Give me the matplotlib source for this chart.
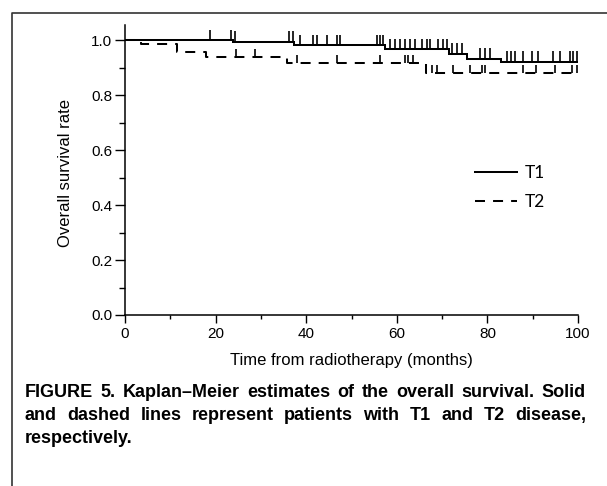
import matplotlib
matplotlib.use("Agg")
import matplotlib.pyplot as plt
from matplotlib.lines import Line2D
import numpy as np

# ---- data ----
t1_event_times = [0, 23.8, 37.2, 57.4, 71.6, 75.4, 83.1, 99.7]
t1_survival    = [1.0, 0.994, 0.982, 0.966, 0.951, 0.933, 0.921, 0.921]
t1_censor = [18.8, 23.5, 24.2, 36.3, 37.0, 38.6, 41.6, 42.4, 44.5, 46.7, 47.5,
             55.6, 56.3, 57.0, 58.5, 59.6, 60.7, 61.8, 62.9, 64.0, 65.5, 66.6,
             67.4, 69.2, 70.3, 71.0, 72.1, 73.2, 74.3, 78.4, 79.5, 80.6,
             84.3, 85.3, 86.1, 87.9, 89.8, 91.2, 94.5, 96.0, 98.2, 98.9, 99.7]

t2_event_times = [0, 3.5, 11.4, 17.9, 35.7, 66.4, 99.7]
t2_survival    = [1.0, 0.985, 0.958, 0.937, 0.915, 0.881, 0.881]
t2_censor = [24.5, 28.7, 37.9, 46.7, 56.3, 61.8, 62.5, 63.6, 67.7, 68.8,
             72.5, 76.2, 78.7, 79.5, 87.9, 90.8, 94.9, 98.6, 99.7]

x_ticks = [0, 20, 40, 60, 80, 100]
y_ticks = [0.0, 0.2, 0.4, 0.6, 0.8, 1.0]
series_labels = ["T1", "T2"]
xlabel = "Time from radiotherapy (months)"
ylabel = "Overall survival rate"
caption_lines = [
    "FIGURE 5. Kaplan\u2013Meier estimates of the overall survival. Solid",
    "and dashed lines represent patients with T1 and T2 disease,",
    "respectively.",
]

W, H = 607, 486
plt.rcParams['font.family'] = ['Liberation Sans', 'DejaVu Sans']
plt.rcParams['lines.scale_dashes'] = False
fig = plt.figure(figsize=(W / 100, H / 100), dpi=100)

# axes placement (pixels)
x0px, x1px = 125, 578
y0px, ytop = 315, 25
ymax = 1.055
ax = fig.add_axes([x0px / W, (H - y0px) / H, (x1px - x0px) / W, (y0px - ytop) / H])
ax.set_xlim(0, 100)
ax.set_ylim(0, ymax)
for s in ['top', 'right']:
    ax.spines[s].set_visible(False)
for s in ['left', 'bottom']:
    ax.spines[s].set_linewidth(1.1)

ax.set_xticks(x_ticks)
ax.set_xticklabels([str(v) for v in x_ticks])
ax.set_xticks([10, 30, 50, 70, 90], minor=True)
ax.set_yticks(y_ticks)
ax.set_yticklabels([f"{v:.1f}" for v in y_ticks])
ax.set_yticks([0.1, 0.3, 0.5, 0.7, 0.9], minor=True)
ax.tick_params(axis='x', which='major', direction='out', length=5.8, width=1.0, pad=3, labelsize=11)
ax.tick_params(axis='x', which='minor', direction='out', length=2.9, width=1.0)
ax.tick_params(axis='y', which='major', direction='out', length=7.2, width=1.0, pad=2, labelsize=11)
ax.tick_params(axis='y', which='minor', direction='out', length=4.3, width=1.0)

def step_value(times, surv, t):
    idx = np.searchsorted(times, t, side='right') - 1
    return np.asarray(surv)[idx]

# T1 solid
l1, = ax.step(t1_event_times, t1_survival, where='post', color='black', lw=1.45,
              solid_joinstyle='miter', label=series_labels[0])
c1 = step_value(t1_event_times, t1_survival, t1_censor)
ax.vlines(t1_censor, c1, c1 + 0.038, color='black', lw=1.2)

# T2 dashed
l2, = ax.step(t2_event_times, t2_survival, where='post', color='black', lw=1.45,
              linestyle=(0, (7.2, 5.8)), label=series_labels[1])
c2 = step_value(t2_event_times, t2_survival, t2_censor)
ax.vlines(t2_censor, c2, c2 + 0.03, color='black', lw=1.2)

leg = ax.legend(handles=[l1, l2], loc='upper left',
                bbox_to_anchor=((475 - x0px) / (x1px - x0px), (y0px - 165) / (y0px - ytop)),
                frameon=False, handlelength=2.4, handletextpad=0.45,
                labelspacing=0.75, borderpad=0, borderaxespad=0,
                prop={'family': ['Lato', 'DejaVu Sans'], 'size': 12.5})

ax.set_xlabel(xlabel, fontsize=12)
ax.xaxis.set_label_coords(0.5, (y0px - 361) / (y0px - ytop))
ax.xaxis.label.set_va('center')
ax.set_ylabel(ylabel, fontsize=12)
ax.yaxis.set_label_coords((66 - x0px) / (x1px - x0px), 0.49)
ax.yaxis.label.set_va('center')

# figure frame
fig.add_artist(Line2D([12 / W, 12 / W, 1.0], [0.0, 1 - 13 / H, 1 - 13 / H],
                      transform=fig.transFigure, color='#333333', lw=1.2))

# justified caption
fig.canvas.draw()
r = fig.canvas.get_renderer()
cap_kw = dict(family=['Liberation Sans'], weight='bold',
              fontsize=13, va='center', ha='left')
cx0, cx1 = 25, 586
cy = [392, 415, 438]
for i, line in enumerate(caption_lines):
    words = line.split(' ')
    texts = [fig.text(0, 1 - cy[i] / H, w, **cap_kw) for w in words]
    widths = [t.get_window_extent(r).width for t in texts]
    if i < len(caption_lines) - 1 and len(words) > 1:
        gap = (cx1 - cx0 - sum(widths)) / (len(words) - 1)
    else:
        sp = fig.text(0, 0, 'a a', **cap_kw)
        sa = fig.text(0, 0, 'aa', **cap_kw)
        gap = sp.get_window_extent(r).width - sa.get_window_extent(r).width
        sp.remove(); sa.remove()
    x = cx0
    for t, w in zip(texts, widths):
        t.set_x(x / W)
        x += w + gap

fig.savefig("out.png", dpi=100)
